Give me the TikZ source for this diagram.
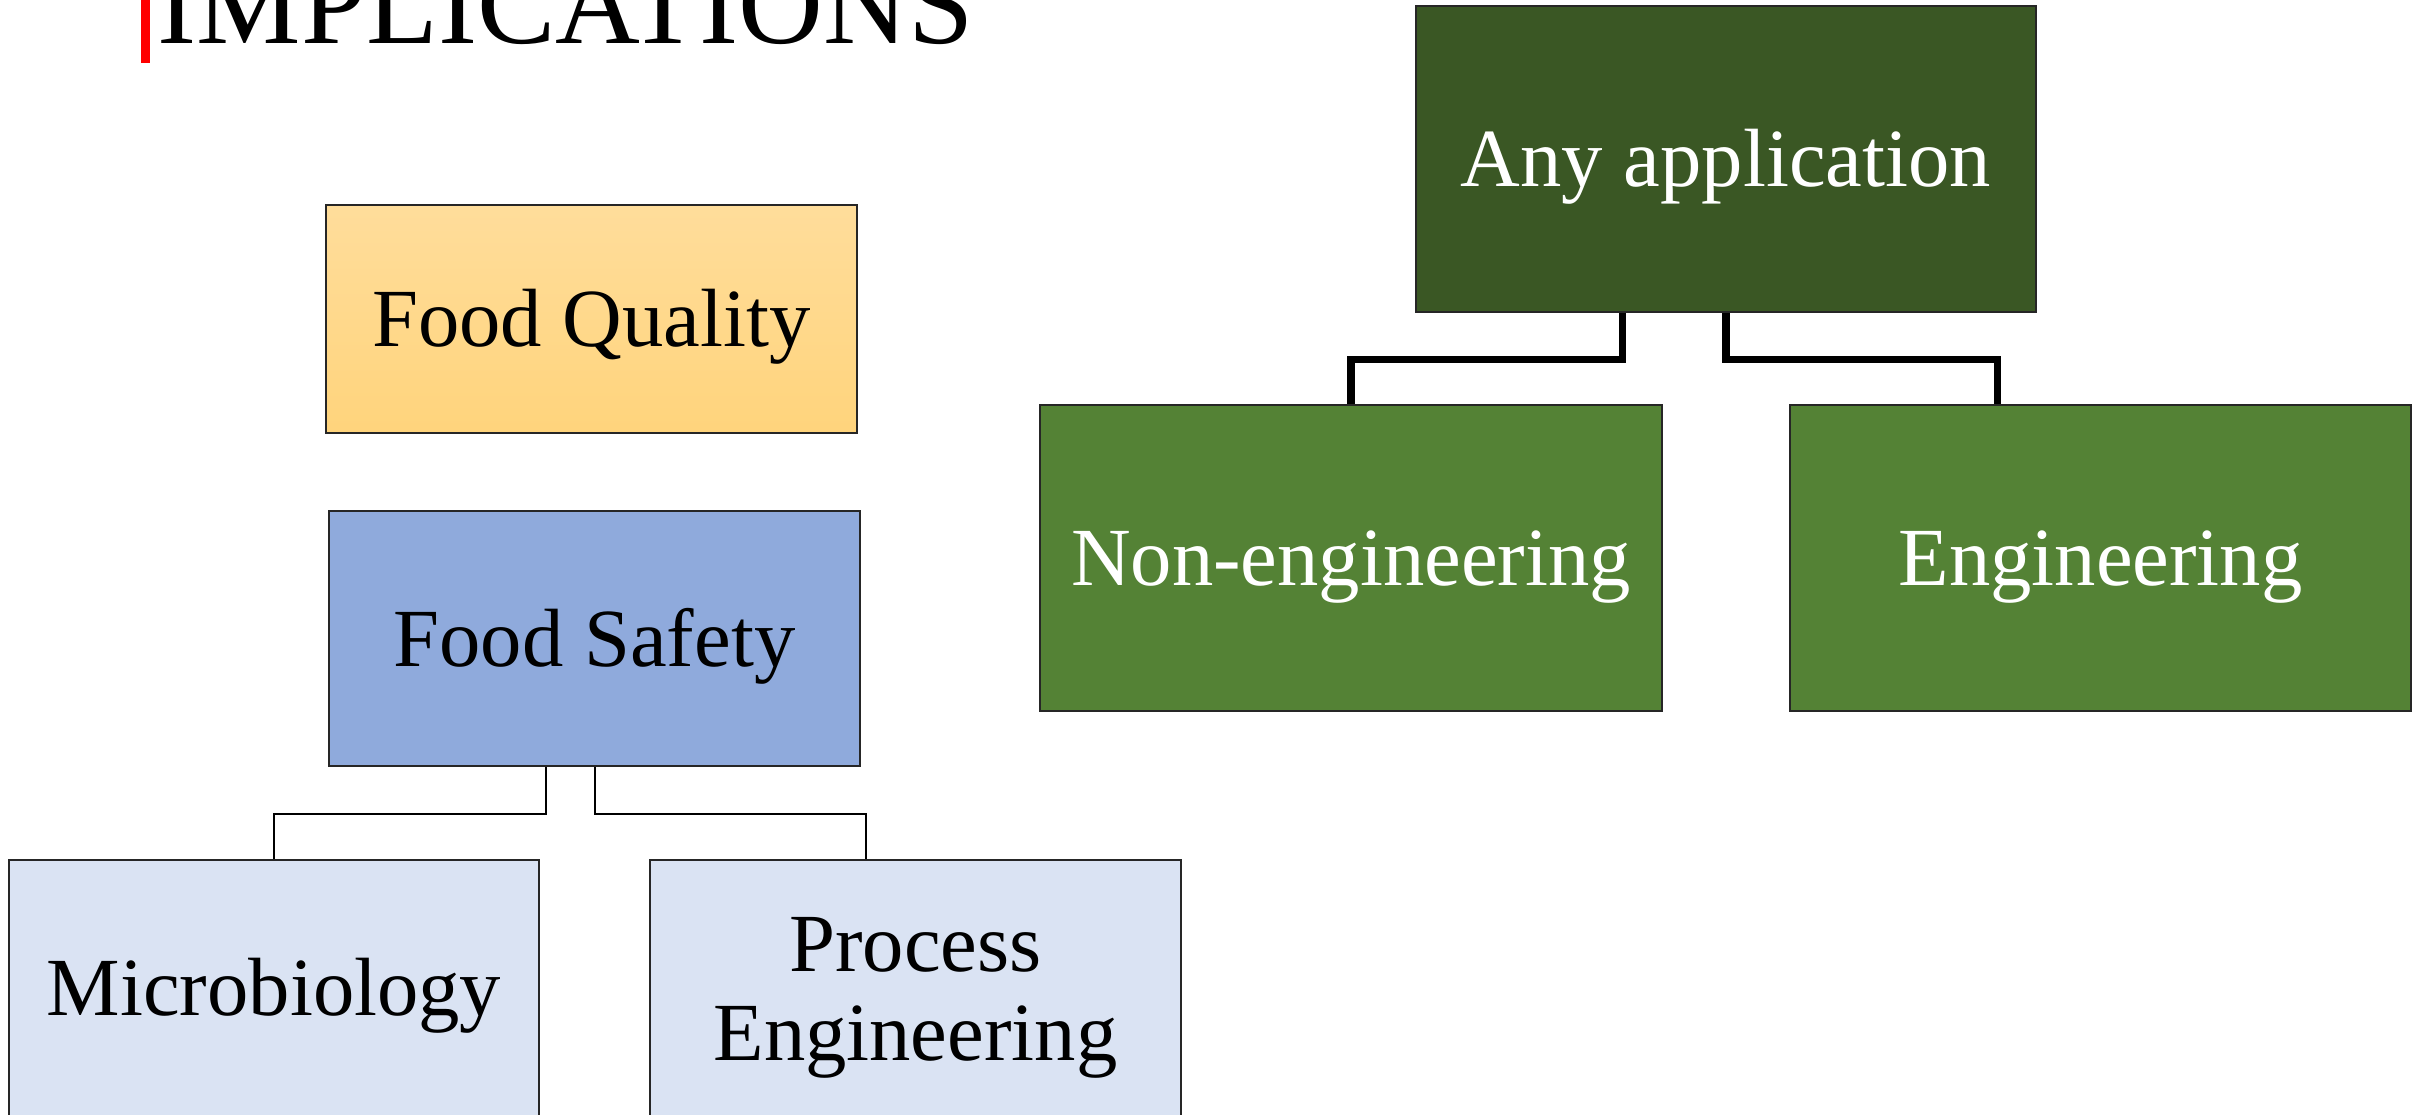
\documentclass[tikz,border=0pt]{standalone}
\usepackage{fontspec}
\setmainfont{Liberation Serif}
\usetikzlibrary{positioning,calc}

\definecolor{qualityTop}{HTML}{FFDD9B}
\definecolor{qualityBot}{HTML}{FFD47C}
\definecolor{safetyBlue}{HTML}{8FAADC}
\definecolor{paleBlue}{HTML}{DAE3F3}
\definecolor{darkGreen}{HTML}{3A5724}
\definecolor{midGreen}{HTML}{548235}

\begin{document}
\begin{tikzpicture}[
    x=0.01cm, y=-0.01cm,
    box/.style={rectangle, draw=black!85, line width=0.6pt, inner sep=0pt, align=center, font=\fontsize{23.5}{25.3}\selectfont, text height=0.736cm, text depth=0.178cm, minimum width=5.31cm},
    greenbox/.style={box, text=white, minimum width=6.21cm, minimum height=3.06cm},
    thinlink/.style={draw, line width=0.57pt, color=black},
    thicklink/.style={draw, line width=2pt, color=black}
]

% Frame of the picture
\useasboundingbox (0,0) rectangle (2420,1114);
\clip (0,0) rectangle (2420,1114);

% Title
\fill[red] (141,-5) rectangle (150,63);
\node[anchor=base west, inner sep=0pt, font=\fontsize{33.4}{36}\selectfont] (title) at (157,43) {IMPLICATIONS};

% Left side boxes
\node[box, top color=qualityTop, bottom color=qualityBot, minimum height=2.28cm] (quality) at (591.5,319) {Food Quality};
\node[box, fill=safetyBlue, minimum height=2.55cm] (safety) at (594.5,638.5) {Food Safety};
\node[box, fill=paleBlue, minimum width=5.30cm, minimum height=2.56cm] (micro) at (274,988) {Microbiology};
\node[box, fill=paleBlue, minimum height=2.56cm, text height=1.62cm] (process) at (915.5,988) {Process\\Engineering};

% Right side boxes
\node[greenbox, fill=darkGreen, minimum width=6.20cm] (any) at (1726,159) {Any application};
\node[greenbox, fill=midGreen] (noneng) at (1351,558) {Non-engineering};
\node[greenbox, fill=midGreen] (eng) at (2100.5,558) {Engineering};

% Draw connectors
\draw[thinlink] ([xshift=-0.485cm]safety.south) -- ++(0,47) -| (micro.north);
\draw[thinlink] (safety.south) -- ++(0,47) -| ([xshift=-0.495cm]process.north);
\draw[thicklink] ([xshift=-1.03cm]any.south) -- ++(0,46) -| (noneng.north);
\draw[thicklink] (any.south) -- ++(0,46) -| ([xshift=-1.025cm]eng.north);

\end{tikzpicture}
\end{document}
